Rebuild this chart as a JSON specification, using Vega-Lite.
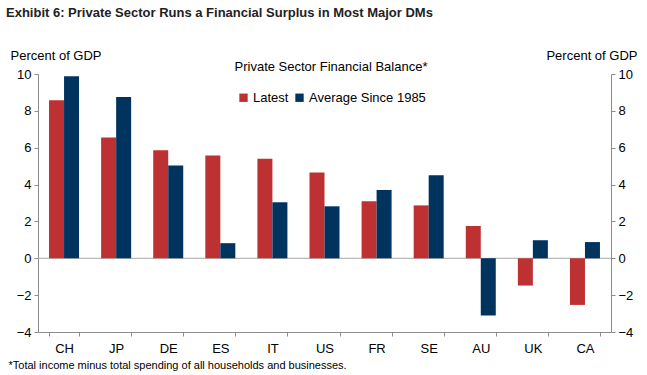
{
  "$schema": "https://vega.github.io/schema/vega-lite/v6.json",
  "width": 573,
  "height": 258,
  "autosize": {"type": "none"},
  "padding": {"left": 38, "top": 74, "right": 36, "bottom": 43},
  "background": "white",
  "config": {
    "font": "Liberation Sans Narrow, Liberation Sans, Arial",
    "view": {"stroke": null},
    "axis": {"labelFont": "Liberation Sans Narrow, Liberation Sans", "titleFont": "Liberation Sans Narrow, Liberation Sans", "labelColor": "#000", "titleColor": "#000", "domainColor": "#8c8c8c", "tickColor": "#8c8c8c", "grid": false, "labelFontSize": 13, "titleFontSize": 13, "titleFontWeight": "normal"}
  },
  "title": {
    "text": "Exhibit 6: Private Sector Runs a Financial Surplus in Most Major DMs",
    "anchor": "start",
    "frame": "bounds",
    "font": "Liberation Sans Narrow, Liberation Sans",
    "fontSize": 13,
    "fontWeight": "bold",
    "color": "#222",
    "dx": -2,
    "dy": -25
  },
  "data": {
    "values": [
      {"country": "CH", "series": "Latest", "value": 8.58},
      {"country": "CH", "series": "Average Since 1985", "value": 9.88},
      {"country": "JP", "series": "Latest", "value": 6.56},
      {"country": "JP", "series": "Average Since 1985", "value": 8.75},
      {"country": "DE", "series": "Latest", "value": 5.86},
      {"country": "DE", "series": "Average Since 1985", "value": 5.04},
      {"country": "ES", "series": "Latest", "value": 5.58},
      {"country": "ES", "series": "Average Since 1985", "value": 0.82},
      {"country": "IT", "series": "Latest", "value": 5.4},
      {"country": "IT", "series": "Average Since 1985", "value": 3.04},
      {"country": "US", "series": "Latest", "value": 4.66},
      {"country": "US", "series": "Average Since 1985", "value": 2.82},
      {"country": "FR", "series": "Latest", "value": 3.1},
      {"country": "FR", "series": "Average Since 1985", "value": 3.7},
      {"country": "SE", "series": "Latest", "value": 2.87},
      {"country": "SE", "series": "Average Since 1985", "value": 4.5},
      {"country": "AU", "series": "Latest", "value": 1.75},
      {"country": "AU", "series": "Average Since 1985", "value": -3.1},
      {"country": "UK", "series": "Latest", "value": -1.48},
      {"country": "UK", "series": "Average Since 1985", "value": 0.98},
      {"country": "CA", "series": "Latest", "value": -2.53},
      {"country": "CA", "series": "Average Since 1985", "value": 0.88}
    ]
  },
  "layer": [
    {
      "data": {"values": [{"z": 0}]},
      "mark": {"type": "rule", "color": "#a6a6a6", "strokeWidth": 1},
      "encoding": {
        "y": {
          "field": "z",
          "type": "quantitative",
          "scale": {"domain": [-4, 10], "nice": false, "zero": false},
          "axis": {"orient": "right", "values": [-4, -2, 0, 2, 4, 6, 8, 10], "tickSize": 4, "labelPadding": 3, "title": "Percent of GDP", "titleAngle": 0, "titleAlign": "right", "titleBaseline": "alphabetic", "titleX": 26, "titleY": -15}
        }
      }
    },
    {
      "mark": {"type": "bar"},
      "encoding": {
        "x": {
          "field": "country",
          "type": "nominal",
          "sort": null,
          "scale": {"paddingInner": 0.424, "paddingOuter": 0.212},
          "axis": {"orient": "bottom", "labelAngle": 0, "tickBand": "extent", "tickSize": 4, "labelPadding": 6, "labelFontSize": 13, "title": "*Total income minus total spending of all households and businesses.", "titleFontSize": 11, "titleAnchor": "start", "titleAlign": "left", "titleX": -30, "titleY": 36, "titleBaseline": "alphabetic"}
        },
        "xOffset": {"field": "series", "type": "nominal", "sort": ["Latest", "Average Since 1985"]},
        "y": {
          "field": "value",
          "type": "quantitative",
          "scale": {"domain": [-4, 10], "nice": false, "zero": false},
          "axis": {"orient": "left", "values": [-4, -2, 0, 2, 4, 6, 8, 10], "tickSize": 4, "labelPadding": 3, "title": "Percent of GDP", "titleAngle": 0, "titleAlign": "left", "titleBaseline": "alphabetic", "titleX": -28, "titleY": -15}
        },
        "color": {
          "field": "series",
          "type": "nominal",
          "sort": ["Latest", "Average Since 1985"],
          "scale": {"domain": ["Latest", "Average Since 1985"], "range": ["#BE3132", "#00345F"]},
          "legend": {
            "title": "Private Sector Financial Balance*",
            "orient": "none",
            "legendX": 197,
            "legendY": -13,
            "direction": "horizontal",
            "titleFontSize": 13,
            "titleFontWeight": "normal",
            "titleColor": "#000",
            "titleAnchor": "middle",
            "titleLimit": 400,
            "titlePadding": 17,
            "labelFontSize": 13,
            "labelColor": "#000",
            "labelLimit": 300,
            "symbolType": "square",
            "symbolSize": 70,
            "symbolStrokeWidth": 0,
            "columnPadding": 4,
            "labelOffset": 3
          }
        }
      }
    }
  ],
  "resolve": {"axis": {"y": "independent"}}
}
